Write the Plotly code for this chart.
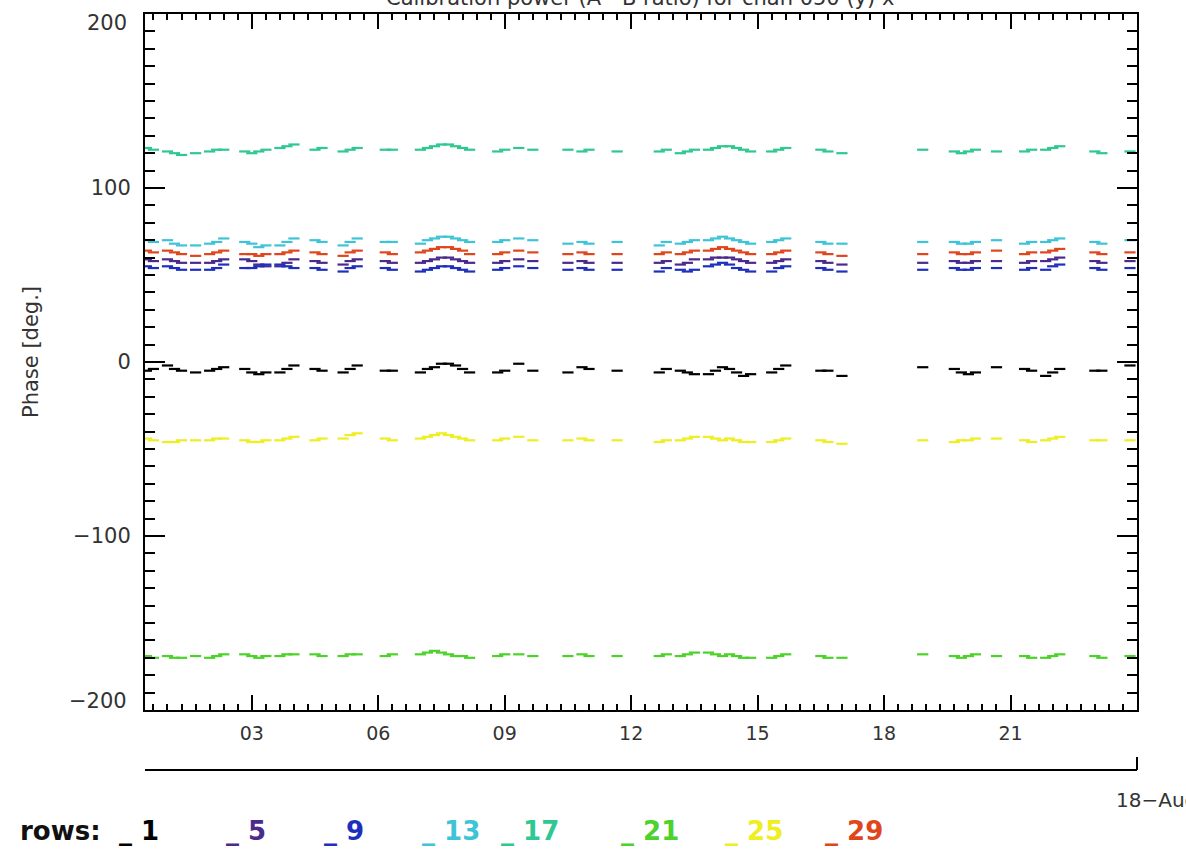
import plotly.graph_objects as go

day = "2012-08-17 "
times = ["00:30", "00:40", "01:00", "01:10", "01:20", "01:40", "02:00", "02:10", "02:20",
         "02:50", "03:00", "03:10", "03:20", "03:40", "03:50", "04:00", "04:30", "04:40",
         "05:10", "05:20", "05:30", "06:10", "06:20", "07:00", "07:10", "07:20", "07:30",
         "07:40", "07:50", "08:00", "08:10", "08:50", "09:00", "09:20", "09:40", "10:30",
         "10:50", "11:00", "11:40", "12:40", "12:50", "13:10", "13:20", "13:30", "13:50",
         "14:00", "14:10", "14:20", "14:30", "14:40", "14:50", "15:20", "15:30", "15:40",
         "16:30", "16:40", "17:00", "18:55", "19:40", "19:50", "20:00", "20:10", "20:40",
         "21:20", "21:30", "21:50", "22:00", "22:10", "23:00", "23:10", "23:50"]

row1 = [-5, -4, -2, -4, -5, -6, -5, -4, -3, -4, -6, -7, -6, -6, -4, -2, -4, -5, -6, -4, -2,
        -5, -5, -6, -4, -3, -1, -1, -2, -4, -6, -6, -5, -1, -5, -6, -3, -4, -5, -6, -4, -5,
        -6, -7, -7, -5, -3, -4, -6, -8, -7, -6, -4, -2, -5, -5, -8, -3, -4, -6, -7, -6, -3,
        -4, -5, -8, -6, -4, -5, -5, -2]
row5 = [59, 58, 59, 58, 57, 57, 57, 58, 59, 59, 58, 56, 55, 55, 57, 59, 58, 57, 56, 58, 59,
        58, 57, 57, 58, 59, 60, 60, 59, 58, 57, 57, 58, 59, 58, 57, 58, 57, 57, 57, 58, 56,
        57, 59, 59, 60, 60, 60, 59, 58, 57, 57, 58, 59, 58, 57, 56, 57, 58, 57, 57, 58, 58,
        57, 58, 58, 59, 60, 58, 57, 58]
row9 = [55, 54, 55, 54, 53, 53, 53, 54, 56, 54, 54, 55, 56, 56, 55, 54, 54, 53, 52, 54, 55,
        54, 53, 52, 53, 54, 55, 55, 54, 53, 52, 53, 54, 55, 54, 53, 54, 53, 53, 52, 54, 53,
        52, 53, 55, 56, 57, 56, 54, 53, 52, 52, 54, 55, 54, 53, 52, 53, 54, 53, 53, 54, 54,
        53, 54, 53, 55, 56, 54, 53, 54]
row13 = [70, 69, 70, 68, 67, 67, 68, 69, 71, 69, 68, 66, 67, 67, 69, 71, 70, 69, 67, 69, 71,
         69, 69, 68, 70, 71, 72, 72, 71, 70, 69, 69, 70, 71, 70, 68, 69, 68, 69, 67, 69, 68,
         69, 70, 70, 71, 72, 71, 70, 69, 68, 69, 70, 71, 69, 68, 68, 69, 69, 68, 68, 69, 70,
         68, 69, 69, 70, 71, 69, 68, 70]
row17 = [123, 122, 121, 120, 119, 120, 121, 122, 122, 121, 120, 121, 122, 123, 124, 125, 122,
         123, 121, 122, 123, 122, 122, 122, 123, 124, 125, 125, 124, 123, 122, 121, 122, 123,
         122, 122, 121, 122, 121, 121, 122, 120, 121, 122, 122, 123, 124, 124, 123, 122, 121,
         121, 122, 123, 122, 121, 120, 122, 121, 120, 121, 122, 121, 121, 122, 122, 123, 124,
         121, 120, 121]
row21 = [-169, -170, -169, -170, -170, -169, -170, -169, -168, -168, -169, -170, -169, -169,
         -168, -168, -168, -169, -169, -168, -168, -169, -168, -168, -167, -166, -167, -168,
         -169, -169, -170, -169, -168, -168, -169, -169, -168, -169, -169, -169, -168, -169,
         -168, -167, -167, -168, -169, -168, -169, -170, -170, -170, -169, -168, -169, -170,
         -170, -168, -169, -170, -169, -168, -169, -169, -170, -170, -169, -168, -169, -170,
         -169]
row25 = [-44, -45, -46, -46, -45, -45, -45, -44, -44, -45, -46, -46, -45, -45, -44, -43, -45,
         -44, -44, -42, -41, -44, -45, -44, -43, -42, -41, -42, -43, -44, -45, -45, -44, -43,
         -45, -45, -44, -45, -45, -46, -45, -45, -44, -43, -43, -44, -45, -44, -45, -46, -46,
         -46, -45, -44, -45, -46, -47, -45, -46, -45, -45, -44, -44, -45, -46, -45, -44, -43,
         -45, -45, -45]
row29 = [64, 63, 64, 63, 62, 61, 62, 63, 64, 62, 62, 61, 62, 62, 63, 64, 63, 62, 61, 63, 64,
         63, 62, 63, 64, 65, 66, 66, 65, 64, 62, 62, 63, 64, 63, 62, 63, 62, 62, 62, 63, 62,
         63, 64, 64, 65, 66, 65, 64, 63, 62, 62, 63, 64, 63, 62, 61, 62, 63, 62, 62, 63, 64,
         62, 63, 63, 64, 65, 63, 62, 63]

row_names = ["1", "5", "9", "13", "17", "21", "25", "29"]
row_values = [row1, row5, row9, row13, row17, row21, row25, row29]
row_colors = ["#000000", "#4b2a8c", "#1e2fbe", "#3ec4d6", "#2ec890", "#4cd22a", "#eeee22", "#e0461c"]

x_tick_hours = ["03", "06", "09", "12", "15", "18", "21"]
y_tick_vals = [-200, -100, 0, 100, 200]
y_tick_text = ["", "\u2212100", "0", "100", ""]
y_edge_labels = ["200", "\u2212200"]

title_text = "Calibration power (A - B ratio) for chan 050 (y) x"

xs = [day + t for t in times]

fig = go.Figure()
for name, vals, col in zip(row_names, row_values, row_colors):
    fig.add_trace(go.Scatter(
        x=xs, y=vals, mode="markers", name=name,
        marker=dict(symbol="line-ew", size=8, color=col, line=dict(width=2.2, color=col)),
        showlegend=False,
    ))

W, H = 1186, 854
L, R, T, B = 145, 49, 14, 144
plot_h = H - T - B
plot_w = W - L - R


def py(page_y):
    return (T + plot_h - page_y) / plot_h


def px(page_x):
    return (page_x - L) / plot_w


font_main = "DejaVu Sans, Verdana, sans-serif"

fig.update_layout(
    template="none",
    width=W, height=H,
    margin=dict(l=L, r=R, t=T, b=B, pad=0),
    paper_bgcolor="white", plot_bgcolor="white",
    font=dict(family=font_main, size=20, color="#222222"),
    xaxis=dict(
        type="date", automargin=False,
        range=[day + "00:28", "2012-08-18 00:00"],
        tickmode="array",
        tickvals=[day + h + ":00" for h in x_tick_hours],
        ticktext=x_tick_hours,
        ticks="inside", ticklen=15, tickwidth=1.5, tickcolor="black",
        minor=dict(tickmode="linear", tick0=day + "00:00", dtick=20 * 60 * 1000,
                   ticks="inside", ticklen=6, tickwidth=1.5, tickcolor="black", showgrid=False),
        showline=True, linecolor="black", linewidth=2, mirror="allticks",
        showgrid=False, zeroline=False,
        tickfont=dict(size=19, color="#333333"),
        ticklabelstandoff=5,
    ),
    yaxis=dict(
        automargin=False,
        range=[-200, 200],
        tickmode="array", tickvals=y_tick_vals, ticktext=y_tick_text,
        ticks="inside", ticklen=20, tickwidth=1.5, tickcolor="black",
        minor=dict(tickmode="linear", tick0=-200, dtick=10,
                   ticks="inside", ticklen=10, tickwidth=1.5, tickcolor="black", showgrid=False),
        showline=True, linecolor="black", linewidth=2, mirror="allticks",
        showgrid=False, zeroline=False,
        tickfont=dict(size=21, color="#333333"),
        ticklabelstandoff=8,
    ),
)

# secondary date-level axis line below the hour axis
fig.add_shape(type="line", xref="paper", yref="paper", x0=0, x1=1, y0=py(770), y1=py(770),
              line=dict(color="black", width=2))
fig.add_shape(type="line", xref="paper", yref="paper", x0=1, x1=1, y0=py(770), y1=py(757),
              line=dict(color="black", width=2))

annotations = [
    dict(text=y_edge_labels[0], x=px(129), y=py(23), xref="paper", yref="paper",
         xanchor="right", yanchor="middle", showarrow=False,
         font=dict(size=21, color="#333333")),
    dict(text=y_edge_labels[1], x=px(129), y=py(701), xref="paper", yref="paper",
         xanchor="right", yanchor="middle", showarrow=False,
         font=dict(size=21, color="#333333")),
    dict(text="18\u2212Aug", x=px(1114), y=py(800), xref="paper", yref="paper",
         xanchor="left", yanchor="middle", showarrow=False,
         font=dict(size=20, color="#333333")),
    dict(text="Phase [deg.]", x=px(31), y=py(352), xref="paper", yref="paper",
         textangle=-90, xanchor="center", yanchor="middle", showarrow=False,
         font=dict(size=21, color="#333333")),
    dict(text=title_text, x=px(640), y=py(-2), xref="paper", yref="paper",
         xanchor="center", yanchor="middle", showarrow=False,
         font=dict(size=21, color="#333333")),
    dict(text="<b>rows:</b>", x=px(18), y=py(831), xref="paper", yref="paper",
         xanchor="left", yanchor="middle", showarrow=False,
         font=dict(size=26, color="#111111")),
]
legend_x = [117, 224, 322, 420, 499, 619, 723, 823]
for name, col, lx in zip(row_names, row_colors, legend_x):
    annotations.append(dict(
        text="<b>_\u00a0" + name + "</b>", x=px(lx), y=py(831), xref="paper", yref="paper",
        xanchor="left", yanchor="middle", showarrow=False,
        font=dict(size=26, color=col)))
fig.update_layout(annotations=annotations)

fig.write_html("out.html", config={"displayModeBar": False},
               post_script="document.body.style.margin='0';")
